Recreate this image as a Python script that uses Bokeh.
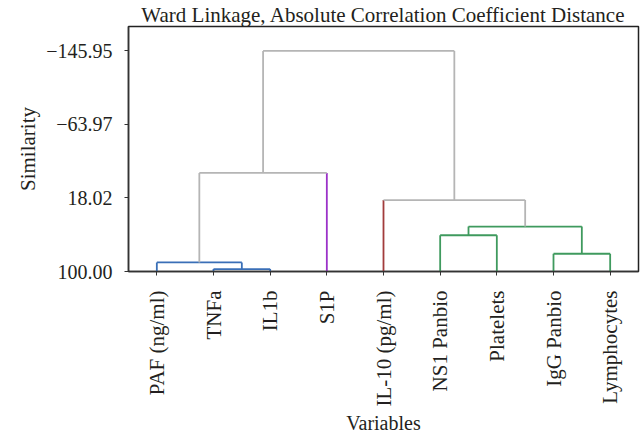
import math
from bokeh.plotting import figure
from bokeh.models import Range1d, FixedTicker, Title
from bokeh.embed import file_html
from bokeh.resources import INLINE

# ---- data ----
variables = ["PAF (ng/ml)", "TNFa", "IL1b", "S1P", "IL-10 (pg/ml)",
             "NS1 Panbio", "Platelets", "IgG Panbio", "Lymphocytes"]
leaf_colors = ["#3a6fb7", "#3a6fb7", "#3a6fb7", "#9b32c8", "#a23c3c",
               "#3f9a5e", "#3f9a5e", "#3f9a5e", "#3f9a5e"]
# merges: (left node, right node, similarity at merge); new nodes numbered from 9
merge_left = [1, 0, 7, 5, 12, 4, 10, 15]
merge_right = [2, 9, 8, 6, 11, 13, 3, 14]
merge_height = [97.3, 89.9, 80.2, 59.6, 49.9, 20.4, -9.9, -145.95]
merge_colors = ["#3a6fb7", "#3a6fb7", "#3f9a5e", "#3f9a5e", "#3f9a5e",
                "#b5b5b5", "#b5b5b5", "#b5b5b5"]
y_ticks = [100.0, 18.02, -63.97, -145.95]
y_tick_labels = ["100.00", "18.02", "\u221263.97", "\u2212145.95"]

FONT = "Liberation Serif"
TXT = "#231f20"

n = len(variables)
pos_x = {i: float(i) for i in range(n)}
pos_y = {i: 100.0 for i in range(n)}

x0, y0, x1, y1, cols = [], [], [], [], []
for k, (a, b, h) in enumerate(zip(merge_left, merge_right, merge_height)):
    c = merge_colors[k]
    for child in (a, b):
        leg_c = leaf_colors[child] if child < n else c
        x0.append(pos_x[child]); y0.append(pos_y[child])
        x1.append(pos_x[child]); y1.append(h); cols.append(leg_c)
    x0.append(pos_x[a]); y0.append(h); x1.append(pos_x[b]); y1.append(h); cols.append(c)
    node = n + k
    pos_x[node] = (pos_x[a] + pos_x[b]) / 2
    pos_y[node] = h

p = figure(width=643, height=436, output_backend="svg", toolbar_location=None,
           x_range=Range1d(-0.5, n - 0.5), y_range=Range1d(100, -173.2),
           min_border_left=128, min_border_right=5, min_border_top=0, min_border_bottom=0)
p.title = Title(text="Ward Linkage, Absolute Correlation Coefficient Distance",
                align="center", text_font=FONT, text_font_size="21px",
                text_font_style="normal", text_color=TXT, standoff=0, offset=0)
p.segment(x0, y0, x1, y1, line_color=cols, line_width=1.8)

p.grid.visible = False
p.outline_line_color = "#222222"
p.outline_line_width = 1.5
p.outline_line_alpha = 1

p.xaxis.ticker = FixedTicker(ticks=list(range(n)))
p.xaxis.major_label_overrides = {i: v for i, v in enumerate(variables)}
p.xaxis.major_label_orientation = math.pi / 2
p.yaxis.ticker = FixedTicker(ticks=y_ticks)
p.yaxis.major_label_overrides = {t: l for t, l in zip(y_ticks, y_tick_labels)}
p.xaxis.axis_label = "Variables"
p.yaxis.axis_label = "Similarity"

for ax in (p.xaxis[0], p.yaxis[0]):
    ax.major_label_text_font = FONT
    ax.major_label_text_color = TXT
    ax.axis_label_text_font = FONT
    ax.axis_label_text_font_style = "normal"
    ax.axis_label_text_color = TXT
    ax.minor_tick_line_color = None
    ax.major_tick_in = 0
    ax.major_tick_out = 4
    ax.major_tick_line_color = "#333333"
    ax.axis_line_color = "#333333"
    ax.axis_line_width = 1.5
p.xaxis.major_label_text_font_size = "21px"
p.yaxis.major_label_text_font_size = "20px"
p.xaxis.axis_label_text_font_size = "20px"
p.yaxis.axis_label_text_font_size = "21px"
p.xaxis.major_label_standoff = 15
p.yaxis.major_label_standoff = 12
p.yaxis.axis_label_standoff = 3
p.xaxis.axis_label_standoff = 2

open("out.html", "w").write(file_html(p, INLINE))
